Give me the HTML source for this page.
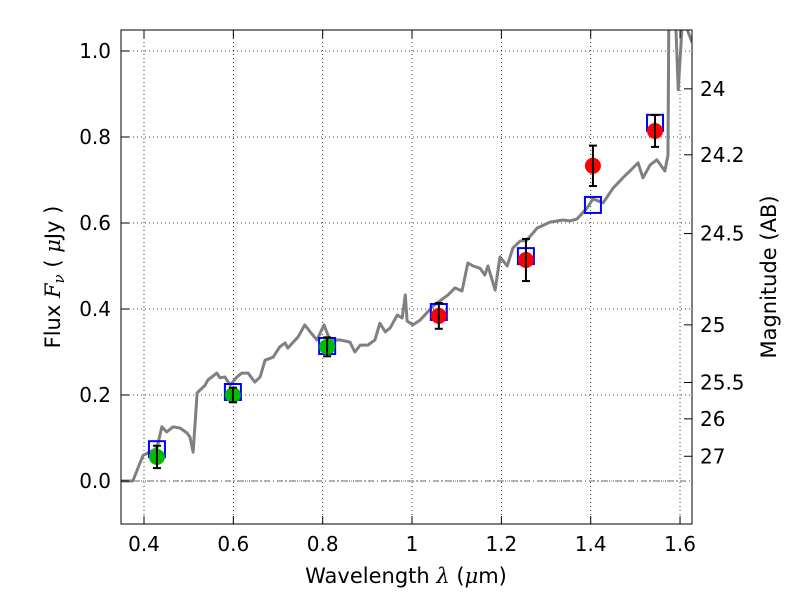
<!DOCTYPE html>
<html><head><meta charset="utf-8"><style>
body{margin:0;background:#fff;}
svg text{font-family:"DejaVu Sans","Liberation Sans",sans-serif;fill:#000;}
</style></head><body>
<svg id="chart" width="800" height="600" xmlns="http://www.w3.org/2000/svg">
<defs><clipPath id="clip"><rect x="121" y="30" width="571" height="494"/></clipPath></defs>
<rect width="800" height="600" fill="#fff"/>
<g id="grid"></g>
<g id="plot" clip-path="url(#clip)"></g>
<rect x="121" y="30" width="571" height="494" fill="none" stroke="#000" stroke-width="1"/>
<g id="axes"></g>
<text x="406" y="583" font-size="21" text-anchor="middle">Wavelength  <tspan font-style="italic" font-family="DejaVu Serif">λ</tspan> (<tspan font-style="italic" font-family="DejaVu Serif">μ</tspan>m)</text>
<text transform="translate(60,277) rotate(-90)" font-size="21" text-anchor="middle">Flux  <tspan font-style="italic" font-family="DejaVu Serif">F</tspan><tspan font-style="italic" font-family="DejaVu Serif" font-size="15" dy="4">ν</tspan><tspan dy="-4">  ( </tspan><tspan font-style="italic" font-family="DejaVu Serif">μ</tspan>Jy )</text>
<text transform="translate(776,277) rotate(-90)" font-size="21" text-anchor="middle">Magnitude (AB)</text>
</svg>
<script>
const specWave=[0.349,0.375,0.398,0.409,0.429,0.440,0.451,0.465,0.481,0.496,0.503,0.510,0.519,0.530,0.537,0.543,0.552,0.563,0.570,0.581,0.593,0.608,0.619,0.633,0.648,0.660,0.671,0.689,0.704,0.716,0.722,0.734,0.745,0.760,0.772,0.787,0.803,0.816,0.839,0.861,0.872,0.884,0.901,0.917,0.928,0.940,0.951,0.967,0.978,0.985,0.989,1.002,1.018,1.047,1.081,1.096,1.112,1.125,1.137,1.152,1.163,1.170,1.186,1.197,1.213,1.226,1.242,1.257,1.280,1.309,1.338,1.354,1.369,1.392,1.405,1.428,1.450,1.472,1.488,1.506,1.517,1.533,1.548,1.566,1.573,1.575,1.589,1.596,1.607,1.616,1.627];
const specFlux=[0.0,0.0,0.060,0.065,0.077,0.126,0.114,0.126,0.123,0.112,0.102,0.067,0.205,0.216,0.223,0.235,0.242,0.251,0.240,0.242,0.223,0.242,0.251,0.251,0.230,0.242,0.281,0.288,0.312,0.321,0.309,0.323,0.335,0.363,0.347,0.328,0.363,0.328,0.328,0.323,0.300,0.316,0.316,0.328,0.367,0.347,0.356,0.386,0.379,0.433,0.372,0.363,0.374,0.407,0.433,0.449,0.442,0.507,0.500,0.495,0.479,0.500,0.444,0.521,0.500,0.542,0.558,0.560,0.588,0.602,0.607,0.605,0.609,0.635,0.656,0.647,0.681,0.705,0.721,0.740,0.705,0.735,0.747,0.721,0.758,1.10,1.10,0.91,1.10,1.05,1.02];
const modelWave=[0.429,0.599,0.810,1.060,1.255,1.405,1.544];
const modelFlux=[0.074,0.207,0.314,0.393,0.523,0.642,0.833];
const greenWave=[0.429,0.599,0.810];
const greenFlux=[0.056,0.200,0.312];
const greenErr=[0.026,0.017,0.022];
const redWave=[1.060,1.255,1.405,1.544];
const redFlux=[0.384,0.514,0.733,0.814];
const redErr=[0.030,0.049,0.047,0.037];
const xTicks=[0.4,0.6,0.8,1.0,1.2,1.4,1.6];
const xTickLabels=["0.4","0.6","0.8","1","1.2","1.4","1.6"];
const yTicks=[0.0,0.2,0.4,0.6,0.8,1.0];
const yTickLabels=["0.0","0.2","0.4","0.6","0.8","1.0"];
const magTicks=[24,24.2,24.5,25,25.5,26,27];
const magTickLabels=["24","24.2","24.5","25","25.5","26","27"];

const NS="http://www.w3.org/2000/svg";
const X=v=>144+(v-0.4)*446.7;
const Y=v=>481-v*430;
const magToFlux=m=>Math.pow(10,-0.4*(m-23.9));
function mk(tag,attrs,parent){const e=document.createElementNS(NS,tag);for(const k in attrs)e.setAttribute(k,attrs[k]);parent.appendChild(e);return e;}
const grid=document.getElementById('grid'),plot=document.getElementById('plot'),axes=document.getElementById('axes');

xTicks.forEach((t,i)=>{
  const gl=mk('line',{x1:X(t),x2:X(t),y1:30,y2:524,stroke:'#000','stroke-dasharray':'1,3','stroke-width':0.8},grid);
  
  
  mk('line',{x1:X(t),x2:X(t),y1:524,y2:516,stroke:'#000'},axes);
  mk('line',{x1:X(t),x2:X(t),y1:30,y2:38,stroke:'#000'},axes);
  const tx=mk('text',{x:X(t),y:551,'font-size':20,'text-anchor':'middle'},axes);
  tx.textContent=xTickLabels[i];
  
  
});
yTicks.forEach((t,i)=>{
  const gl=mk('line',{x1:121,x2:692,y1:Y(t),y2:Y(t),stroke:'#000','stroke-dasharray':'1,3','stroke-width':0.8},grid);
  
  
  mk('line',{x1:121,x2:129,y1:Y(t),y2:Y(t),stroke:'#000'},axes);
  const tx=mk('text',{x:111,y:Y(t)+7,'font-size':20,'text-anchor':'end'},axes);
  tx.textContent=yTickLabels[i];
  
  
});
magTicks.forEach((m,i)=>{
  const y=Y(magToFlux(m));
  mk('line',{x1:684,x2:692,y1:y,y2:y,stroke:'#000'},axes);
  const tx=mk('text',{x:700,y:y+7,'font-size':20},axes);
  tx.textContent=magTickLabels[i];
  
  
});
const zl=mk('line',{x1:121,x2:692,y1:Y(0),y2:Y(0),stroke:'#444','stroke-dasharray':'6,3,1,3','stroke-width':0.8},plot);


const sp=mk('polyline',{points:specWave.map((w,i)=>X(w)+','+Y(specFlux[i])).join(' '),fill:'none',stroke:'#808080','stroke-width':3,'stroke-linejoin':'round'},plot);


modelWave.forEach((w,i)=>{
  const r=mk('rect',{x:X(w)-8,y:Y(modelFlux[i])-8,width:16,height:16,fill:'none',stroke:'#0000ff','stroke-width':2},plot);
  
  
});
function pts(ws,fs,es,col,name){
  ws.forEach((w,i)=>{
    const c=mk('circle',{cx:X(w),cy:Y(fs[i]),r:8,fill:col},plot);
    
    
    const x=X(w),y1=Y(fs[i]+es[i]),y2=Y(fs[i]-es[i]);
    const g=mk('g',{stroke:'#000','stroke-width':2},plot);
    
    
    mk('line',{x1:x,x2:x,y1:y1,y2:y2},g);
    mk('line',{x1:x-4,x2:x+4,y1:y1,y2:y1},g);
    mk('line',{x1:x-4,x2:x+4,y1:y2,y2:y2},g);
  });
}
pts(greenWave,greenFlux,greenErr,'#00bb00','green-observed-point');
pts(redWave,redFlux,redErr,'#ff0000','red-observed-point');
</script>
</body></html>
